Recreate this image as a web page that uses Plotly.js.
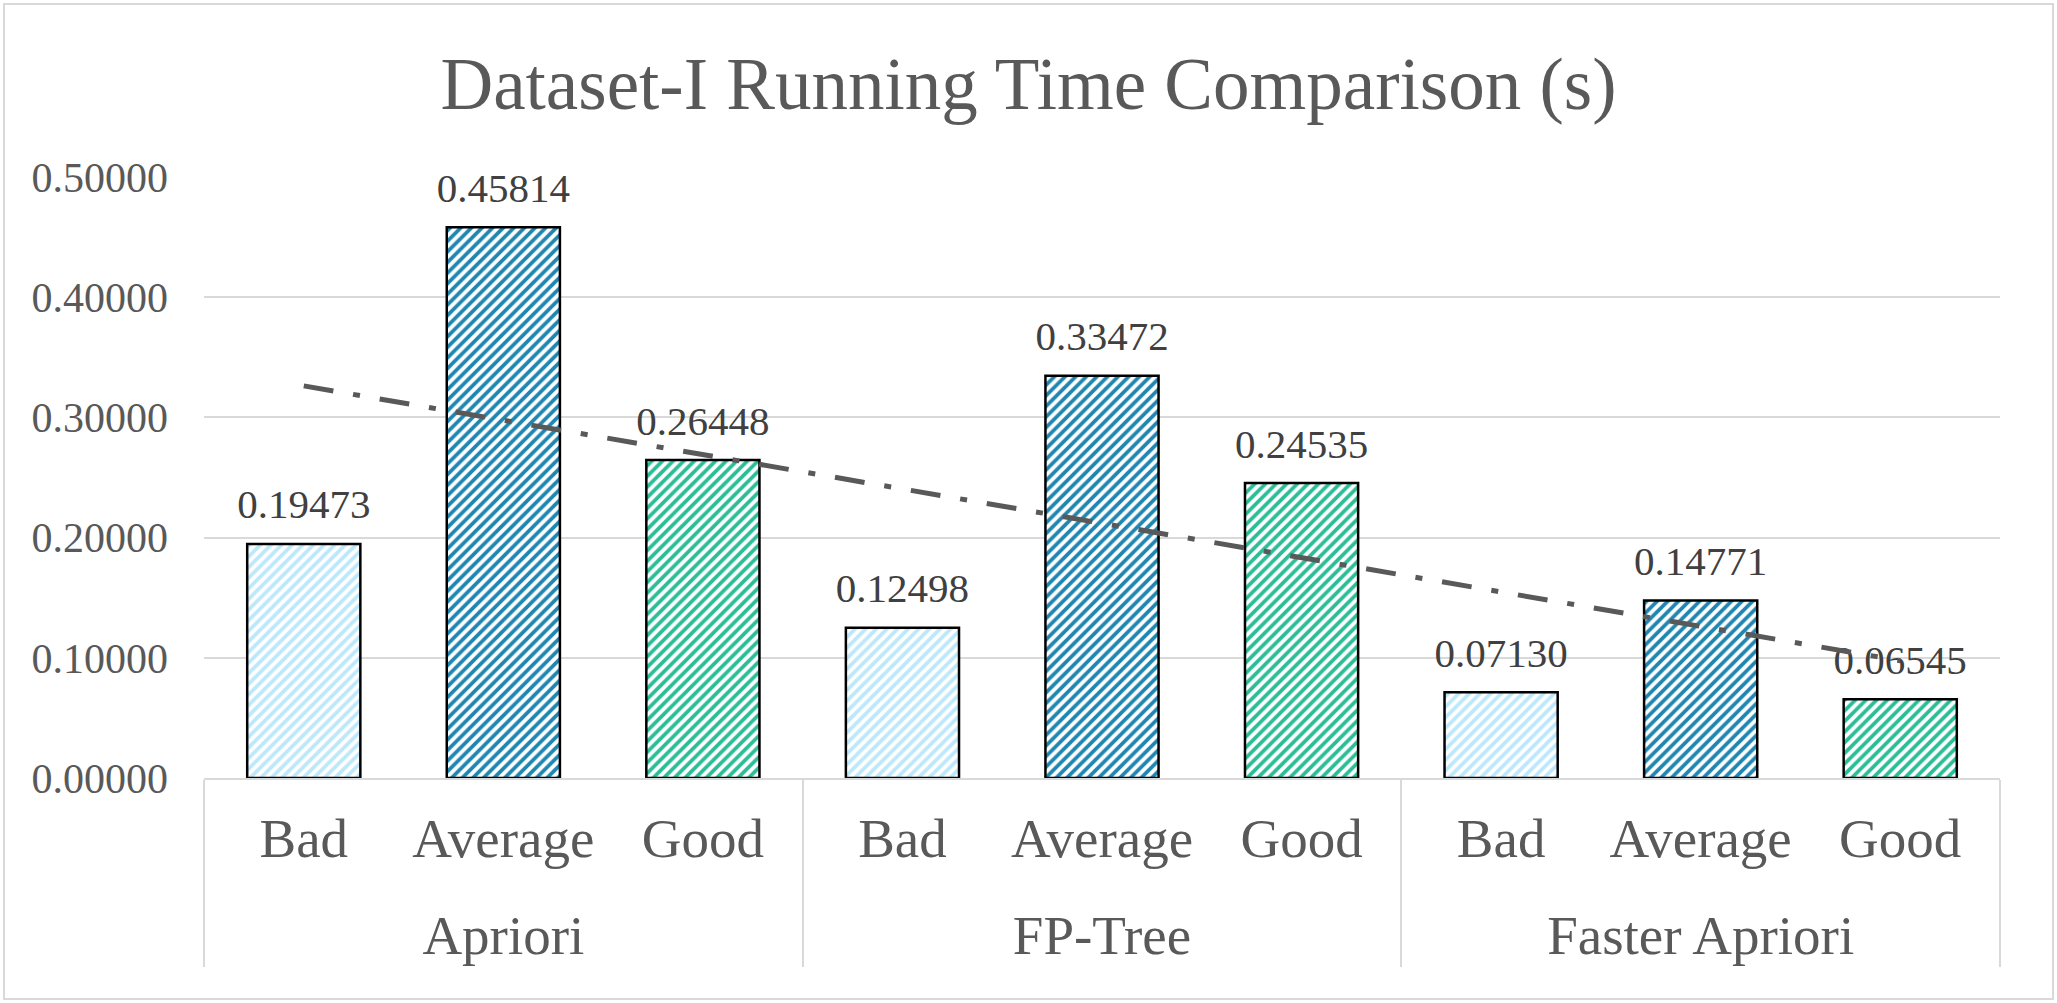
<!DOCTYPE html>
<html>
<head>
<meta charset="utf-8">
<script src="https://cdn.plot.ly/plotly-3.0.1.min.js"></script>
<style>
  body { margin: 0; background: #fff; }
  #graph { width: 2057px; height: 1003px; }
  #frame { position: absolute; left: 3px; top: 3px; width: 2047px; height: 993px;
           border: 2px solid #d9d9d9; pointer-events: none; }
</style>
</head>
<body>
<div id="graph"></div>
<div id="frame"></div>
<script>
// algorithms (outer axis level) and dataset quality (inner level)
var algorithms = ['Apriori', 'FP-Tree', 'Faster Apriori'];
var qualities = ['Bad', 'Average', 'Good'];

// running time in seconds, one array per quality, ordered like algorithms
var badTimes = [0.19473, 0.12498, 0.07130];
var averageTimes = [0.45814, 0.33472, 0.14771];
var goodTimes = [0.26448, 0.24535, 0.06545];

// linear trend line at the first and last bar
var trendAt = [['Apriori', 'Faster Apriori'], ['Bad', 'Good']];
var trendValues = [0.3262, 0.0976];

var stripeColors = ['#bde8fb', '#1f86b1', '#2bbd98'];

// tick text is drawn at 55px inside a different base font so the gap
// between the two label rows can be tuned by the base line spacing
function big(s) { return "<span style='font-size:55px'>" + s + "</span>"; }
function subLabel(s) { return big(s); }
function groupLabel(s) { return '<br>' + big(s); }

function xPairs(groups, subs) {
  return [groups.map(groupLabel), subs.map(subLabel)];
}

function barTrace(values, quality, color) {
  return {
    type: 'bar',
    x: xPairs(algorithms, algorithms.map(function () { return quality; })),
    y: values,
    text: values.map(function (v) {
      return "<span style='font-size:41px'>" + v.toFixed(5) + "</span><br>&nbsp;";
    }),
    textposition: 'outside',
    constraintext: 'none',
    cliponaxis: false,
    textfont: { family: 'Liberation Serif', size: 15, color: '#404040' },
    marker: {
      color: 'white',
      line: { color: '#000', width: 2.5 },
      pattern: { shape: '/', fgcolor: color, bgcolor: 'white', size: 7.5, solidity: 0.5 }
    },
    hoverinfo: 'y'
  };
}

function plot() {
  var data = [
    barTrace(badTimes, qualities[0], stripeColors[0]),
    barTrace(averageTimes, qualities[1], stripeColors[1]),
    barTrace(goodTimes, qualities[2], stripeColors[2]),
    {
      type: 'scatter',
      mode: 'lines',
      x: xPairs(trendAt[0], trendAt[1]),
      y: trendValues,
      line: { color: '#595959', width: 5, dash: '30px,20px,7px,20px' },
      hoverinfo: 'skip'
    }
  ];

  var layout = {
    width: 2057,
    height: 1003,
    margin: { l: 204, r: 57, t: 177, b: 225 },
    paper_bgcolor: 'white',
    plot_bgcolor: 'white',
    font: { family: 'Liberation Serif', color: '#595959' },
    showlegend: false,
    barmode: 'overlay',
    bargap: 0.433,
    title: {
      text: 'Dataset-I Running Time Comparison (s)',
      font: { family: 'Liberation Serif', size: 73, color: '#595959' },
      x: 0.5, xref: 'container', xanchor: 'center', y: 0.917, yanchor: 'middle'
    },
    xaxis: {
      type: 'multicategory',
      tickfont: { size: 44.4, color: '#595959' },
      ticklabelstandoff: 24,
      showline: true, linecolor: '#d9d9d9', linewidth: 2,
      showdividers: true, dividercolor: '#d9d9d9', dividerwidth: 2,
      showgrid: false, zeroline: false
    },
    yaxis: {
      range: [0, 0.5],
      dtick: 0.1,
      tickformat: '.5f',
      tickfont: { size: 42, color: '#595959' },
      ticklabelstandoff: 35,
      gridcolor: '#d9d9d9', gridwidth: 2,
      zeroline: false, showline: false
    }
  };

  Plotly.newPlot('graph', data, layout, { displayModeBar: false, staticPlot: true });
}

plot();
</script>
</body>
</html>
